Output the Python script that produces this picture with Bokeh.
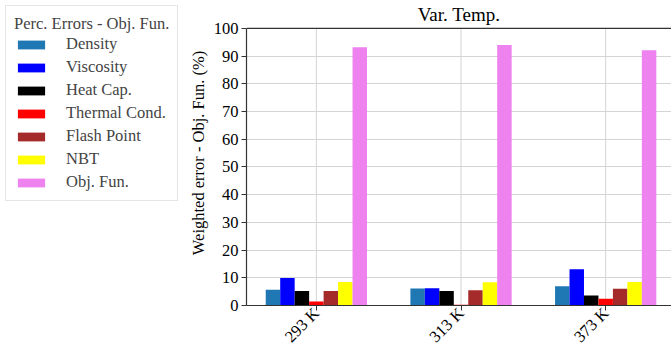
import math
from bokeh.plotting import figure
from bokeh.layouts import row
from bokeh.models import Range1d, FixedTicker, Legend, LegendItem, ColumnDataSource, Span, Label
from bokeh.embed import file_html
from bokeh.resources import INLINE

temps = ["293 K", "313 K", "373 K"]
series_names = ["Density", "Viscosity", "Heat Cap.", "Thermal Cond.", "Flash Point", "NBT", "Obj. Fun."]
series_colors = ["#1f77b4", "#0000ff", "#000000", "#ff0000", "#a52a2a", "#ffff00", "#ee82ee"]
density = [5.7, 6.1, 6.9]
viscosity = [9.9, 6.2, 13.1]
heat_cap = [5.2, 5.2, 3.6]
thermal_cond = [1.4, 0.3, 2.4]
flash_point = [5.2, 5.5, 6.0]
nbt = [8.5, 8.4, 8.5]
obj_fun = [93.2, 94.0, 92.1]
series_values = [density, viscosity, heat_cap, thermal_cond, flash_point, nbt, obj_fun]
y_ticks = list(range(0, 101, 10))
title_text = "Var. Temp."

FONT = "Liberation Serif"
SPINE = "#333333"
bar_w = 0.1
LEG_W = 185
H = 355
BOTTOM = 48
TOP_GAP = 28          # pixels between the page top and the value 100
y_max = y_ticks[-1]
frame_h = H - BOTTOM
px_to_val = y_max / (frame_h - TOP_GAP)
y_top = y_max + TOP_GAP * px_to_val

xr = Range1d(-0.483, 2.455)
p = figure(width=671 - LEG_W, height=H, output_backend="svg", toolbar_location=None, title_location=None,
           x_range=xr, y_range=Range1d(0, y_top),
           min_border_left=245 - LEG_W, min_border_right=0, min_border_top=0, min_border_bottom=BOTTOM)

# legend panel (separate figure to the left); its proxy renderers have zero height and lie outside its x range
cats = list(range(len(temps)))
q = figure(width=LEG_W, height=H, output_backend="svg", toolbar_location=None, title_location=None,
           x_axis_location=None, y_axis_location=None,
           x_range=Range1d(len(cats), len(cats) + 1), y_range=Range1d(0, y_top),
           min_border_left=0, min_border_right=0, min_border_top=0, min_border_bottom=0)
q.grid.visible = False
q.outline_line_color = None

# vertical grid lines at the categories, limited to the value range
p.segment(x0=cats, x1=cats, y0=[y_ticks[0]] * len(cats), y1=[y_max] * len(cats),
          line_color="#d4d4d4", line_width=1, level="underlay")

items = []
n = len(series_names)
for j, (name, col, vals) in enumerate(zip(series_names, series_colors, series_values)):
    xs = [i + (j - (n - 1) / 2) * bar_w for i in cats]
    src = ColumnDataSource(dict(x=xs, top=vals))
    p.vbar(x="x", top="top", width=bar_w, bottom=0, source=src, fill_color=col, line_color=None)
    r = q.vbar(x="x", top="top", bottom="top", width=bar_w, source=src, fill_color=col, line_color=None)
    items.append(LegendItem(label=name, renderers=[r]))

p.add_layout(Label(x=(xr.start + xr.end) / 2, y=y_max + 14 * px_to_val, text=title_text,
                   text_align="center", text_baseline="middle",
                   text_font=FONT, text_font_size="19px", text_color="#000000"))
p.add_layout(Span(location=y_max, dimension="width", line_color=SPINE, line_width=1.2))

p.xaxis.ticker = FixedTicker(ticks=cats)
p.xaxis.major_label_overrides = {i: t for i, t in enumerate(temps)}
p.xaxis.major_label_orientation = math.pi / 4
p.yaxis.ticker = FixedTicker(ticks=y_ticks)
p.yaxis.bounds = (y_ticks[0], y_max)
p.yaxis.axis_label = "Weighted error - Obj. Fun. (%)"
p.yaxis.axis_label_text_font = FONT
p.yaxis.axis_label_text_font_size = "16.5px"
p.yaxis.axis_label_text_font_style = "normal"
p.yaxis.axis_label_text_color = "#000000"
p.yaxis.axis_label_standoff = 3
for ax in (p.xaxis, p.yaxis):
    ax.major_label_text_font = FONT
    ax.major_label_text_font_size = "16.5px"
    ax.major_label_text_color = "#000000"
    ax.axis_line_color = SPINE
    ax.axis_line_width = 1.2
    ax.major_tick_line_color = SPINE
    ax.major_tick_out = 5
    ax.major_tick_in = 0
    ax.minor_tick_line_color = None
    ax.major_label_standoff = 3
p.xaxis.major_label_standoff = 0
p.xaxis.major_label_text_line_height = 0.9

p.xgrid.visible = False
p.ygrid.ticker = FixedTicker(ticks=y_ticks)
p.ygrid.grid_line_color = "#d4d4d4"
p.ygrid.grid_line_width = 1
p.outline_line_color = None
p.background_fill_color = "white"
p.border_fill_color = "white"

legend = Legend(items=items, location="top_left", title="Perc. Errors - Obj. Fun.",
                title_text_font=FONT, title_text_font_size="16.5px", title_text_font_style="normal",
                label_text_font=FONT, label_text_font_size="16.5px",
                glyph_width=34, glyph_height=11, label_standoff=18, label_height=20,
                spacing=3, padding=8, margin=5, title_standoff=0,
                border_line_color="#cccccc", border_line_width=1, background_fill_color="white")
q.add_layout(legend, "center")

open("out.html", "w").write(file_html(row(q, p), INLINE))
